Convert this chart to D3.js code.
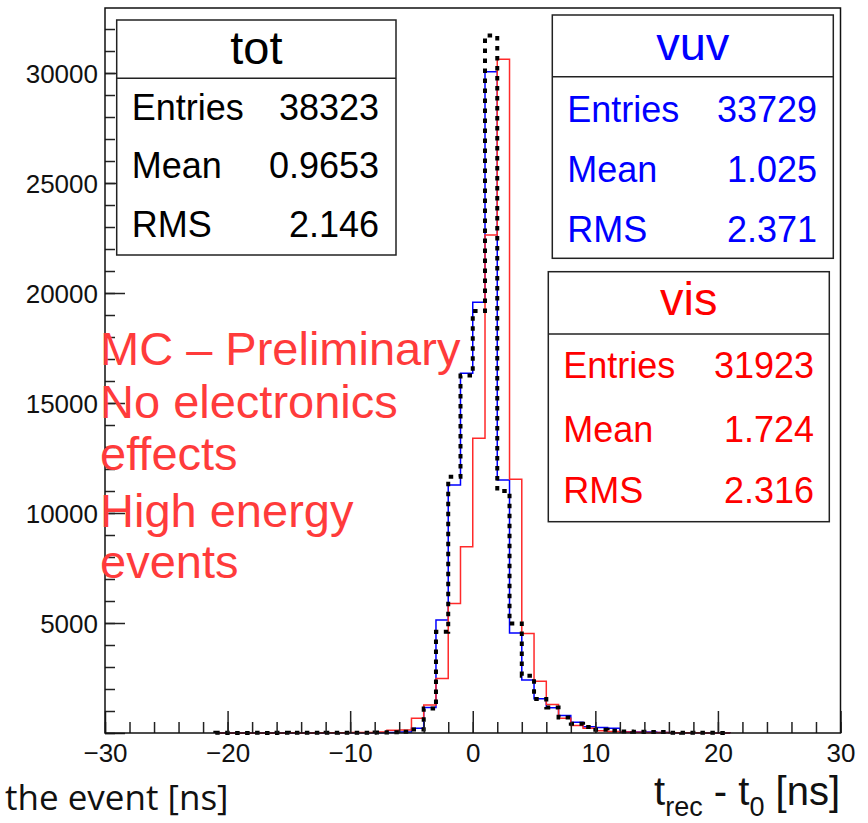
<!DOCTYPE html>
<html>
<head>
<meta charset="utf-8">
<script src="https://cdn.jsdelivr.net/npm/d3@7"></script>
<style>
  html, body { margin: 0; padding: 0; background: #fff; }
  svg { display: block; }
  text { font-family: "Liberation Sans", Arial, Helvetica, sans-serif; }
</style>
</head>
<body>
<svg id="chart" width="868" height="823"></svg>
<script>
// Histogram binning: 1 ns bins from -21 ns to 21 ns
const binLow = -21;
const binWidth = 1;

// Bin contents, one value per bin starting at binLow
const totCounts = [6, 4, 5, 7, 5, 8, 6, 9, 8, 10, 12, 14, 16, 22, 30, 60, 160, 1110, 4600, 11650,
  16250, 19180, 31700, 11000, 4980, 2600, 1545, 1160, 700, 420, 270, 150, 100, 65, 55, 50, 40, 15, 10, 8, 6, 4];
const vuvCounts = [2, 1, 2, 3, 2, 4, 3, 5, 4, 6, 7, 9, 12, 15, 25, 45, 212, 1160, 5140, 11270,
  16350, 19580, 30060, 11500, 4540, 2410, 1560, 1150, 790, 490, 288, 250, 212, 60, 45, 40, 25, 15, 10, 8, 5, 3];
const visCounts = [3, 2, 4, 3, 5, 4, 6, 5, 8, 10, 12, 18, 25, 50, 130, 140, 670, 1270, 2480, 5890,
  8470, 13400, 22640, 30620, 11530, 4520, 2350, 1300, 667, 340, 212, 106, 70, 45, 35, 25, 18, 12, 10, 6, 5, 3];

// Axis ticks
const xMajorTicks = [-30, -20, -10, 0, 10, 20, 30];
const yMajorTicks = [0, 5000, 10000, 15000, 20000, 25000, 30000];

// Statistics boxes
const statNames = ["tot", "vuv", "vis"];
const statEntries = ["38323", "33729", "31923"];
const statMeans = ["0.9653", "1.025", "1.724"];
const statRMS = ["2.146", "2.371", "2.316"];

// Annotation text
const noteLines = ["MC \u2013 Preliminary", "No electronics", "effects", "High energy", "events"];

const svg = d3.select("#chart");
const W = 868, H = 823;
const frame = { left: 105, right: 840.5, top: 8, bottom: 733 };

const x = d3.scaleLinear().domain([-30, 30]).range([frame.left, frame.right]);
const y = d3.scaleLinear().domain([0, 32955]).range([frame.bottom, frame.top]);

svg.append("rect").attr("width", W).attr("height", H).attr("fill", "#fff");

// clip for histogram lines
svg.append("defs").append("clipPath").attr("id", "plotClip")
  .append("rect")
  .attr("x", frame.left).attr("y", frame.top - 2)
  .attr("width", frame.right - frame.left).attr("height", frame.bottom - frame.top + 4);

// Step outline of a histogram, ROOT style
function histPoints(counts) {
  const pts = [[binLow, 0]];
  counts.forEach((c, i) => pts.push([binLow + i * binWidth, c]));
  const hi = binLow + counts.length * binWidth;
  pts.push([hi, counts[counts.length - 1]]);
  pts.push([hi, 0]);
  return pts;
}
const stepLine = d3.line()
  .x(d => x(d[0]))
  .y(d => y(d[1]))
  .curve(d3.curveStepAfter);

const histG = svg.append("g").attr("clip-path", "url(#plotClip)");
histG.append("path").attr("d", stepLine(histPoints(vuvCounts)))
  .attr("fill", "none").attr("stroke", "#0000ff").attr("stroke-width", 1.5);
histG.append("path").attr("d", stepLine(histPoints(visCounts)))
  .attr("fill", "none").attr("stroke", "#ff2a2a").attr("stroke-width", 1.5);
histG.append("path").attr("d", stepLine(histPoints(totCounts)))
  .attr("fill", "none").attr("stroke", "#000").attr("stroke-width", 4)
  .attr("stroke-dasharray", "4.5,5.5");

// X axis: major ticks with labels, minor ticks every 2 ns (ticks point into the frame)
const xMajor = d3.axisBottom(x).tickValues(xMajorTicks).tickSize(-22).tickPadding(10.5)
  .tickFormat(d3.format("d"));
const xMinor = d3.axisBottom(x).tickValues(d3.range(-30, 31, 2)).tickSize(-11).tickFormat("");
const gxm = svg.append("g").attr("transform", `translate(0,${frame.bottom})`).call(xMinor);
const gx = svg.append("g").attr("transform", `translate(0,${frame.bottom})`).call(xMajor);
[gxm, gx].forEach(g => {
  g.select(".domain").remove();
  g.selectAll(".tick line").attr("stroke", "#222").attr("stroke-width", 1.5);
});
gx.selectAll(".tick text").attr("font-size", 26).attr("fill", "#111")
  .style("font-family", "'Liberation Sans', Arial, sans-serif");

// Y axis: major ticks every 5000, minor every 1000
const yMajor = d3.axisLeft(y).tickValues(yMajorTicks).tickSize(-20).tickPadding(7)
  .tickFormat(d => d === 0 ? "" : d3.format("d")(d));
const yMinor = d3.axisLeft(y).tickValues(d3.range(0, 32001, 1000)).tickSize(-10).tickFormat("");
const gym = svg.append("g").attr("transform", `translate(${frame.left},0)`).call(yMinor);
const gy = svg.append("g").attr("transform", `translate(${frame.left},0)`).call(yMajor);
[gym, gy].forEach(g => {
  g.select(".domain").remove();
  g.selectAll(".tick line").attr("stroke", "#222").attr("stroke-width", 1.5);
});
gy.selectAll(".tick text").attr("font-size", 26).attr("fill", "#111").attr("dy", "0.36em")
  .style("font-family", "'Liberation Sans', Arial, sans-serif");

// Frame
svg.append("rect")
  .attr("x", frame.left).attr("y", frame.top)
  .attr("width", frame.right - frame.left).attr("height", frame.bottom - frame.top)
  .attr("fill", "none").attr("stroke", "#111").attr("stroke-width", 1.5);

// X axis title
const xt = svg.append("text").attr("x", 840).attr("y", 805)
  .attr("text-anchor", "end").attr("font-size", 40).attr("fill", "#111");
xt.append("tspan").text("t");
xt.append("tspan").attr("font-size", 27).attr("dy", 11).text("rec");
xt.append("tspan").attr("dy", -11).text(" - t");
xt.append("tspan").attr("font-size", 27).attr("dy", 11).text("0");
xt.append("tspan").attr("dy", -11).text(" [ns]");

// Fragment of neighbouring axis title at lower left
svg.append("text").attr("x", 5).attr("y", 810)
  .attr("font-size", 35).attr("fill", "#111")
  .style("font-family", "'Open Sans', 'Noto Sans', sans-serif")
  .text("the event [ns]");

// Statistics boxes
const statBoxes = [
  { x0: 116.7, y0: 20, x1: 396, y1: 255, div: 78.3, titleY: 64, rows: [120, 178.3, 236.7], lx: 131.7, rx: 379, color: "#000" },
  { x0: 552.3, y0: 15, x1: 833.3, y1: 258.3, div: 76.7, titleY: 60, rows: [121.7, 181.7, 241.7], lx: 567.3, rx: 817, color: "#0000ff" },
  { x0: 548.3, y0: 271.7, x1: 829.3, y1: 521.7, div: 334, titleY: 315, rows: [378.3, 441.7, 503.3], lx: 563.3, rx: 814, color: "#ff0000" }
];
statBoxes.forEach((b, i) => {
  const g = svg.append("g");
  g.append("rect").attr("x", b.x0).attr("y", b.y0)
    .attr("width", b.x1 - b.x0).attr("height", b.y1 - b.y0)
    .attr("fill", "#fff").attr("stroke", "#222").attr("stroke-width", 1.5);
  g.append("line").attr("x1", b.x0).attr("x2", b.x1).attr("y1", b.div).attr("y2", b.div)
    .attr("stroke", "#222").attr("stroke-width", 1.5);
  g.append("text").attr("x", (b.x0 + b.x1) / 2).attr("y", b.titleY)
    .attr("text-anchor", "middle").attr("font-size", 47).attr("fill", b.color)
    .text(statNames[i]);
  const labels = ["Entries", "Mean", "RMS"];
  const vals = [statEntries[i], statMeans[i], statRMS[i]];
  labels.forEach((lab, k) => {
    g.append("text").attr("x", b.lx).attr("y", b.rows[k])
      .attr("font-size", 36).attr("fill", b.color).text(lab);
    g.append("text").attr("x", b.rx).attr("y", b.rows[k])
      .attr("text-anchor", "end").attr("font-size", 36).attr("fill", b.color).text(vals[k]);
  });
});

// Annotation
const noteBaselines = [365, 418, 470, 527, 578];
noteLines.forEach((t, i) => {
  svg.append("text").attr("x", 100).attr("y", noteBaselines[i])
    .attr("font-size", 47).attr("fill", "#ff3b3b").text(t);
});
</script>
</body>
</html>
